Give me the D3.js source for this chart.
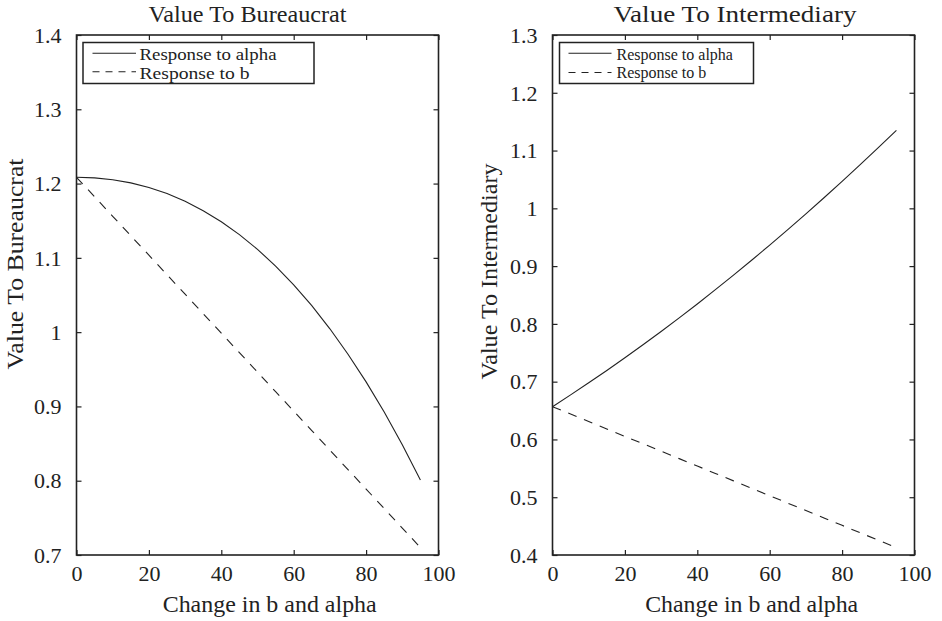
<!DOCTYPE html>
<html>
<head>
<meta charset="utf-8">
<script src="https://cdn.jsdelivr.net/npm/d3@7"></script>
<style>
  html, body { margin: 0; padding: 0; background: #fff; }
  svg { display: block; }
  svg text { font-family: "Liberation Serif", "Times New Roman", Times, serif !important; fill: #222; }
</style>
</head>
<body>
<svg id="chart" width="942" height="621"></svg>
<script>
// ---- data ----
const changeValues = [0, 5, 10, 15, 20, 25, 30, 35, 40, 45, 50, 55, 60, 65, 70, 75, 80, 85, 90, 95];

const bureaucratAlpha = [1.2085, 1.2077, 1.2052, 1.2009, 1.1947, 1.1865, 1.1761, 1.1635, 1.1487, 1.1313,
                         1.1115, 1.0889, 1.0637, 1.0356, 1.0045, 0.9703, 0.9330, 0.8924, 0.8484, 0.8010];
const bureaucratB     = [1.2085, 1.1823, 1.1560, 1.1298, 1.1036, 1.0773, 1.0511, 1.0249, 0.9986, 0.9724,
                         0.9462, 0.9199, 0.8937, 0.8675, 0.8412, 0.8150, 0.7888, 0.7625, 0.7363, 0.7100];

const intermediaryAlpha = [0.6567, 0.6771, 0.6980, 0.7194, 0.7414, 0.7639, 0.7868, 0.8104, 0.8345, 0.8592,
                           0.8844, 0.9101, 0.9363, 0.9631, 0.9904, 1.0183, 1.0466, 1.0755, 1.1050, 1.1350];
const intermediaryB     = [0.6567, 0.6439, 0.6310, 0.6182, 0.6053, 0.5925, 0.5797, 0.5668, 0.5540, 0.5411,
                           0.5283, 0.5155, 0.5026, 0.4898, 0.4769, 0.4641, 0.4513, 0.4384, 0.4256, 0.4127];

const xTicks = [0, 20, 40, 60, 80, 100];
const bureaucratYTicks = [0.7, 0.8, 0.9, 1.0, 1.1, 1.2, 1.3, 1.4];
const intermediaryYTicks = [0.4, 0.5, 0.6, 0.7, 0.8, 0.9, 1.0, 1.1, 1.2, 1.3];

const legendLabels = ["Response to alpha", "Response to b"];
const xLabel = "Change in b and alpha";

// ---- layout ----
const svg = d3.select("#chart");
const ink = "#222";
const serif = '"Liberation Serif", "Times New Roman", Times, serif';
const labelSize = 23.5;

// stretch a text horizontally so that it spans the width seen in the reference
function fitWidth(sel, target, size) {
  sel.attr("font-size", size || labelSize)
     .attr("textLength", target)
     .attr("lengthAdjust", "spacingAndGlyphs");
  return sel;
}

const panels = [
  {
    title: "Value To Bureaucrat", yLabel: "Value To Bureaucrat",
    alpha: bureaucratAlpha, b: bureaucratB, yTicks: bureaucratYTicks, yDomain: [0.7, 1.4],
    left: 76.5, right: 438.5, top: 35, bottom: 555,
    titleX: 247.5, titleW: 198, xLabelX: 269.7, xLabelW: 214,
    yLabelX: 23, yLabelY: 264, yLabelW: 211,
    legend: { x: 83, y: 42.5, w: 231, h: 41, lineX0: 92.5, lineX1: 136, textX: 139.5, fs: 17,
              widths: [137, 110], rows: [53.3, 71.7], base: [59.5, 78.5] }
  },
  {
    title: "Value To Intermediary", yLabel: "Value To Intermediary",
    alpha: intermediaryAlpha, b: intermediaryB, yTicks: intermediaryYTicks, yDomain: [0.4, 1.3],
    left: 552.5, right: 914.5, top: 35, bottom: 555,
    titleX: 735, titleW: 243, xLabelX: 751.7, xLabelW: 213,
    yLabelX: 497, yLabelY: 271.5, yLabelW: 216,
    legend: { x: 559.5, y: 42.5, w: 194, h: 41, lineX0: 568.5, lineX1: 611.5, textX: 616.5, fs: 16,
              widths: null, rows: [53.3, 72.5], base: [59.5, 78] }
  }
];

panels.forEach(p => {
  const g = svg.append("g");
  const x = d3.scaleLinear().domain([0, 100]).range([p.left, p.right]);
  const y = d3.scaleLinear().domain(p.yDomain).range([p.bottom, p.top]);

  // axes with inward ticks on all four sides
  const tickLen = 5;
  const axB = g.append("g").attr("transform", `translate(0,${p.bottom})`)
    .call(d3.axisBottom(x).tickValues(xTicks).tickSize(-tickLen).tickPadding(14).tickFormat(d3.format("d")));
  const axT = g.append("g").attr("transform", `translate(0,${p.top})`)
    .call(d3.axisTop(x).tickValues(xTicks).tickSize(-tickLen).tickFormat(""));
  const axL = g.append("g").attr("transform", `translate(${p.left},0)`)
    .call(d3.axisLeft(y).tickValues(p.yTicks).tickSize(-tickLen).tickPadding(15).tickFormat(d => String(+d.toFixed(1))));
  const axR = g.append("g").attr("transform", `translate(${p.right},0)`)
    .call(d3.axisRight(y).tickValues(p.yTicks).tickSize(-tickLen).tickFormat(""));

  [axB, axT, axL, axR].forEach(a => {
    a.attr("font-family", serif).attr("font-size", 22);
    a.select(".domain").remove();
    a.selectAll(".tick line").attr("stroke", ink).attr("stroke-width", 1.2);
    a.selectAll(".tick text").attr("font-size", 22).attr("fill", ink).attr("font-family", serif);
  });
  axB.selectAll(".tick text").attr("dy", null).attr("y", 26);
  axL.selectAll(".tick text").attr("dy", "0.33em");

  // box
  g.append("rect")
    .attr("x", p.left).attr("y", p.top)
    .attr("width", p.right - p.left).attr("height", p.bottom - p.top)
    .attr("fill", "none").attr("stroke", ink).attr("stroke-width", 1.6);

  // lines
  const line = d3.line().x((d, i) => x(changeValues[i])).y(d => y(d));
  g.append("path").datum(p.alpha).attr("d", line)
    .attr("fill", "none").attr("stroke", ink).attr("stroke-width", 1.1);
  g.append("path").datum(p.b).attr("d", line)
    .attr("fill", "none").attr("stroke", ink).attr("stroke-width", 1.1)
    .attr("stroke-dasharray", "9,8");

  // title & labels
  const t = g.append("text").attr("x", p.titleX).attr("y", 21.5).attr("text-anchor", "middle")
    .attr("font-family", serif).text(p.title);
  fitWidth(t, p.titleW);
  const xl = g.append("text").attr("x", p.xLabelX).attr("y", 612).attr("text-anchor", "middle")
    .attr("font-family", serif).text(xLabel);
  fitWidth(xl, p.xLabelW);
  const yl = g.append("text").attr("transform", `translate(${p.yLabelX},${p.yLabelY}) rotate(-90)`)
    .attr("text-anchor", "middle").attr("font-family", serif).text(p.yLabel);
  fitWidth(yl, p.yLabelW);

  // legend
  const L = p.legend;
  g.append("rect").attr("x", L.x).attr("y", L.y).attr("width", L.w).attr("height", L.h)
    .attr("fill", "#fff").attr("stroke", ink).attr("stroke-width", 1.5);
  legendLabels.forEach((lab, i) => {
    g.append("line").attr("x1", L.lineX0).attr("x2", L.lineX1)
      .attr("y1", L.rows[i]).attr("y2", L.rows[i])
      .attr("stroke", ink).attr("stroke-width", 1.1)
      .attr("stroke-dasharray", i === 1 ? "7,6" : null);
    const lt = g.append("text").attr("x", L.textX).attr("y", L.base[i]).attr("font-size", L.fs)
      .attr("font-family", serif).text(lab);
    if (L.widths) fitWidth(lt, L.widths[i], L.fs);
  });
});
</script>
</body>
</html>
